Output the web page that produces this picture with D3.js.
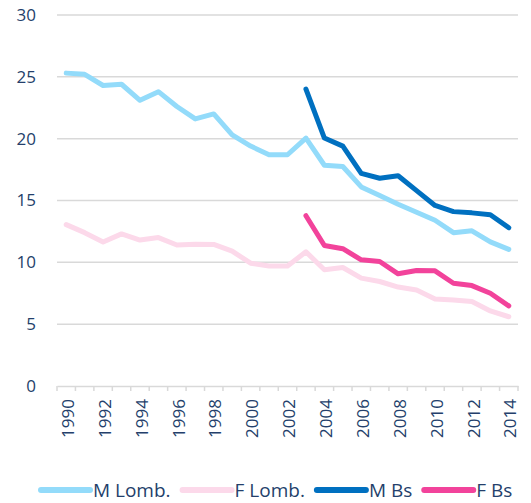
<!DOCTYPE html>
<html>
<head>
<meta charset="utf-8">
<script src="https://cdn.jsdelivr.net/npm/d3@7"></script>
<style>
  html, body { margin: 0; padding: 0; background: #fff; }
  svg { display: block; font-family: "Open Sans", "DejaVu Sans", sans-serif; }
</style>
</head>
<body>
<svg id="chart" width="531" height="503"></svg>
<script>
const years = d3.range(1990, 2015).map(String);
const yTicks = [0, 5, 10, 15, 20, 25, 30];
const xTickLabels = years.filter((y, i) => i % 2 === 0);

const seriesNames = ["M Lomb.", "F Lomb.", "M Bs", "F Bs"];
const seriesColors = ["#93dbfa", "#fcd9ea", "#0070c0", "#f2439b"];

const mLomb = [25.3, 25.2, 24.3, 24.4, 23.1, 23.8, 22.6, 21.6, 22.0, 20.3, 19.4, 18.7, 18.7, 20.05, 17.85, 17.75, 16.1, 15.4, 14.7, 14.05, 13.4, 12.4, 12.55, 11.65, 11.05];
const fLomb = [13.05, 12.4, 11.65, 12.3, 11.8, 12.0, 11.4, 11.47, 11.45, 10.9, 9.93, 9.7, 9.7, 10.85, 9.4, 9.58, 8.72, 8.45, 8.0, 7.77, 7.04, 6.96, 6.83, 6.07, 5.6];
const mBs = [null, null, null, null, null, null, null, null, null, null, null, null, null, 24.0, 20.05, 19.4, 17.2, 16.8, 17.0, 15.8, 14.6, 14.1, 14.0, 13.85, 12.8];
const fBs = [null, null, null, null, null, null, null, null, null, null, null, null, null, 13.77, 11.36, 11.1, 10.2, 10.07, 9.07, 9.34, 9.31, 8.31, 8.12, 7.5, 6.48];

const seriesValues = [mLomb, fLomb, mBs, fBs];

const svg = d3.select("#chart");
const textColor = "#243f6b";
const gridColor = "#d9d9d9";

const margin = { left: 57, right: 13, top: 15, bottom: 117 };
const W = 531, H = 503;

const x = d3.scaleBand().domain(years).range([margin.left, W - margin.right]).paddingInner(0).paddingOuter(0);
const y = d3.scaleLinear().domain([0, 30]).range([H - margin.bottom, margin.top]);

// gridlines
svg.append("g")
  .selectAll("line")
  .data(yTicks.filter(d => d > 0))
  .join("line")
  .attr("x1", margin.left).attr("x2", W - margin.right)
  .attr("y1", d => y(d)).attr("y2", d => y(d))
  .attr("stroke", gridColor).attr("stroke-width", 1.5);

// y axis labels
const yAxis = svg.append("g")
  .attr("transform", `translate(${margin.left - 21},0)`)
  .call(d3.axisLeft(y).tickValues(yTicks).tickSize(0).tickPadding(0));
yAxis.select(".domain").remove();
yAxis.selectAll("text")
  .attr("fill", textColor).attr("font-size", 17)
  .attr("font-family", "'Open Sans', sans-serif");

// x axis
const xAxis = svg.append("g")
  .attr("transform", `translate(0,${y(0)})`)
  .call(d3.axisBottom(x).tickValues(xTickLabels).tickSize(0).tickPadding(0));
xAxis.select(".domain").attr("stroke", gridColor).attr("stroke-width", 1.5);
xAxis.selectAll(".tick text")
  .attr("fill", textColor).attr("font-size", 17)
  .attr("font-family", "'Open Sans', sans-serif")
  .attr("text-anchor", "end")
  .attr("transform", "rotate(-90)")
  .attr("x", -13).attr("y", 0).attr("dy", "0.45em");

// tick marks on category boundaries
svg.append("g")
  .selectAll("line")
  .data(years.concat(["end"]))
  .join("line")
  .attr("x1", (d, i) => i < years.length ? x(d) : x(years[years.length - 1]) + x.bandwidth())
  .attr("x2", (d, i) => i < years.length ? x(d) : x(years[years.length - 1]) + x.bandwidth())
  .attr("y1", y(0)).attr("y2", y(0) + 5)
  .attr("stroke", gridColor).attr("stroke-width", 1.5);

// lines
const line = d3.line()
  .defined(d => d.v != null)
  .x(d => x(d.year) + x.bandwidth() / 2)
  .y(d => y(d.v));

seriesValues.forEach((vals, si) => {
  const data = years.map((yr, i) => ({ year: yr, v: vals[i] }));
  svg.append("path")
    .datum(data)
    .attr("d", line)
    .attr("fill", "none")
    .attr("stroke", seriesColors[si])
    .attr("stroke-width", 5)
    .attr("stroke-linejoin", "round")
    .attr("stroke-linecap", "round");
});

// legend
const legend = svg.append("g").attr("transform", "translate(0,490)");
const swatchW = 49;
let cx = 41;
seriesNames.forEach((name, i) => {
  const g = legend.append("g");
  g.append("line")
    .attr("x1", cx).attr("x2", cx + swatchW)
    .attr("y1", 0).attr("y2", 0)
    .attr("stroke", seriesColors[i]).attr("stroke-width", 6)
    .attr("stroke-linecap", "round");
  const t = g.append("text")
    .attr("x", cx + swatchW + 3).attr("y", 0).attr("dy", "0.36em")
    .attr("fill", textColor).attr("font-size", 19)
    .text(name);
  const w = t.node().getComputedTextLength();
  cx = cx + swatchW + 3 + w + 12;
});
</script>
</body>
</html>
